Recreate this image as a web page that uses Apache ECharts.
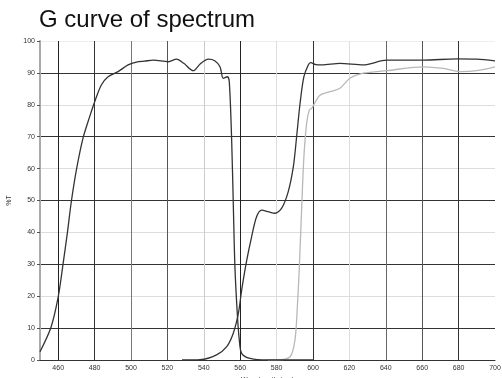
<!DOCTYPE html>
<html>
<head>
<meta charset="utf-8">
<script src="https://cdn.jsdelivr.net/npm/echarts@6/dist/echarts.min.js"></script>
<style>
  html, body { margin: 0; padding: 0; background: #fff; }
  #chart { width: 502px; height: 378px; }
</style>
</head>
<body>
<div id="chart"></div>
<script>
// passband curve (dark)
var passWave = [450, 456, 460, 462.6, 465, 467.2, 470, 473.6, 477.3, 480.4, 483.7, 487.4, 492.9, 498.4, 503, 507.5, 512.3, 520.5, 525, 529, 534.2, 538, 542.5, 546, 548.9, 550.7, 552.9, 554, 555.3, 556.2, 557.1, 558.4, 559.5, 560.8, 565.4, 575, 600]
var passT    = [2.6, 10.2, 19.8, 29.8, 39.7, 49.6, 59.6, 69.5, 76.3, 81.5, 86.2, 88.8, 90.4, 92.5, 93.4, 93.7, 94.0, 93.5, 94.3, 93.0, 90.7, 92.8, 94.3, 93.8, 91.9, 88.3, 88.8, 87.2, 69, 49, 29.2, 14.6, 6.3, 2.1, 0.5, 0, 0]

// long-pass curve (dark)
var edgeWave = [528, 538, 547, 552.6, 556.2, 559, 560.8, 563.6, 566.3, 569, 571.8, 575.4, 579.1, 582.8, 586.4, 589.2, 591, 592.9, 595, 597.4, 598.7, 601.5, 604.8, 614.8, 627.6, 640.5, 660.6, 679, 690, 700]
var edgeT    = [0, 0.1, 1.6, 4.2, 8.4, 14.6, 21.9, 31.3, 38.7, 44.9, 47, 46.5, 46, 47.6, 52.8, 60.6, 70, 80.5, 88.8, 92.5, 93.2, 92.6, 92.5, 93, 92.5, 94, 94, 94.4, 94.3, 93.8]

// long-pass curve (light)
var grayWave = [575, 580, 587.4, 590.1, 591.4, 592.5, 593.8, 595, 596.5, 598, 599.3, 603.8, 609.3, 614.8, 620.3, 627.6, 640.5, 660.6, 671.6, 680.8, 690, 700]
var grayT    = [0, 0, 1, 6.3, 16.7, 29.2, 48, 63.7, 74.2, 78.4, 78.9, 83, 84.1, 85.2, 88.3, 89.9, 90.7, 91.9, 91.4, 90.4, 90.7, 91.9]

function pairs(xs, ys) {
    return xs.map(function (x, i) { return [x, ys[i]] })
}

// one colour per 10 nm gridline, 450..700
var xGridColors = ['rgba(0,0,0,0)', '#222', 'rgba(0,0,0,0)', '#333', 'rgba(0,0,0,0)', '#777',
    'rgba(0,0,0,0)', '#555', 'rgba(0,0,0,0)', '#ccc', 'rgba(0,0,0,0)', '#222', 'rgba(0,0,0,0)', '#ddd',
    'rgba(0,0,0,0)', '#333', 'rgba(0,0,0,0)', '#ddd', 'rgba(0,0,0,0)', '#666', 'rgba(0,0,0,0)', '#555',
    'rgba(0,0,0,0)', '#333', 'rgba(0,0,0,0)', 'rgba(0,0,0,0)']
var yGridColors = ['#333', '#333', '#ddd', '#333', '#ddd', '#333', '#ddd', '#333', '#ddd', '#333', '#eee']

var chart = echarts.init(document.getElementById('chart'))
var font = 'Liberation Sans, Arial, sans-serif'
chart.setOption({
    backgroundColor: '#fff',
    animation: false,
    title: {
        text: 'G curve of spectrum',
        left: 34,
        top: 3,
        textStyle: { fontFamily: font, fontSize: 24, fontWeight: 'normal', color: '#111' }
    },
    grid: { left: 40, right: 7, top: 41, bottom: 18, outerBoundsMode: 'none' },
    xAxis: {
        type: 'value',
        min: 450,
        max: 700,
        interval: 10,
        name: 'Wavelength (nm)',
        nameLocation: 'middle',
        nameGap: 15,
        nameTextStyle: { fontFamily: font, fontSize: 7, color: '#333' },
        axisLine: { lineStyle: { color: '#333', width: 1 } },
        axisTick: { show: false },
        axisLabel: {
            fontFamily: font, fontSize: 7, color: '#333', margin: 5,
            formatter: function (v) { return v % 20 === 0 && v > 450 ? String(v) : '' }
        },
        splitLine: { show: true, lineStyle: { color: xGridColors, width: 1 } }
    },
    yAxis: {
        type: 'value',
        min: 0,
        max: 100,
        interval: 10,
        name: '%T',
        nameLocation: 'middle',
        nameRotate: 90,
        nameGap: 24,
        nameTextStyle: { fontFamily: font, fontSize: 7, color: '#333' },
        axisLine: { show: true, lineStyle: { color: '#aaa', width: 2 } },
        axisTick: { show: true, length: 3, lineStyle: { color: '#555' } },
        axisLabel: { fontFamily: font, fontSize: 7, color: '#333', margin: 5 },
        splitLine: { show: true, lineStyle: { color: yGridColors, width: 1 } }
    },
    series: [
        {
            type: 'line', data: pairs(grayWave, grayT), smooth: 0.3, symbol: 'none',
            lineStyle: { color: '#b8b8b8', width: 1.3 }
        },
        {
            type: 'line', data: pairs(edgeWave, edgeT), smooth: 0.3, symbol: 'none',
            lineStyle: { color: '#333', width: 1.3 }
        },
        {
            type: 'line', data: pairs(passWave, passT), smooth: 0.3, symbol: 'none',
            lineStyle: { color: '#333', width: 1.3 }
        }
    ]
})
</script>
</body>
</html>
